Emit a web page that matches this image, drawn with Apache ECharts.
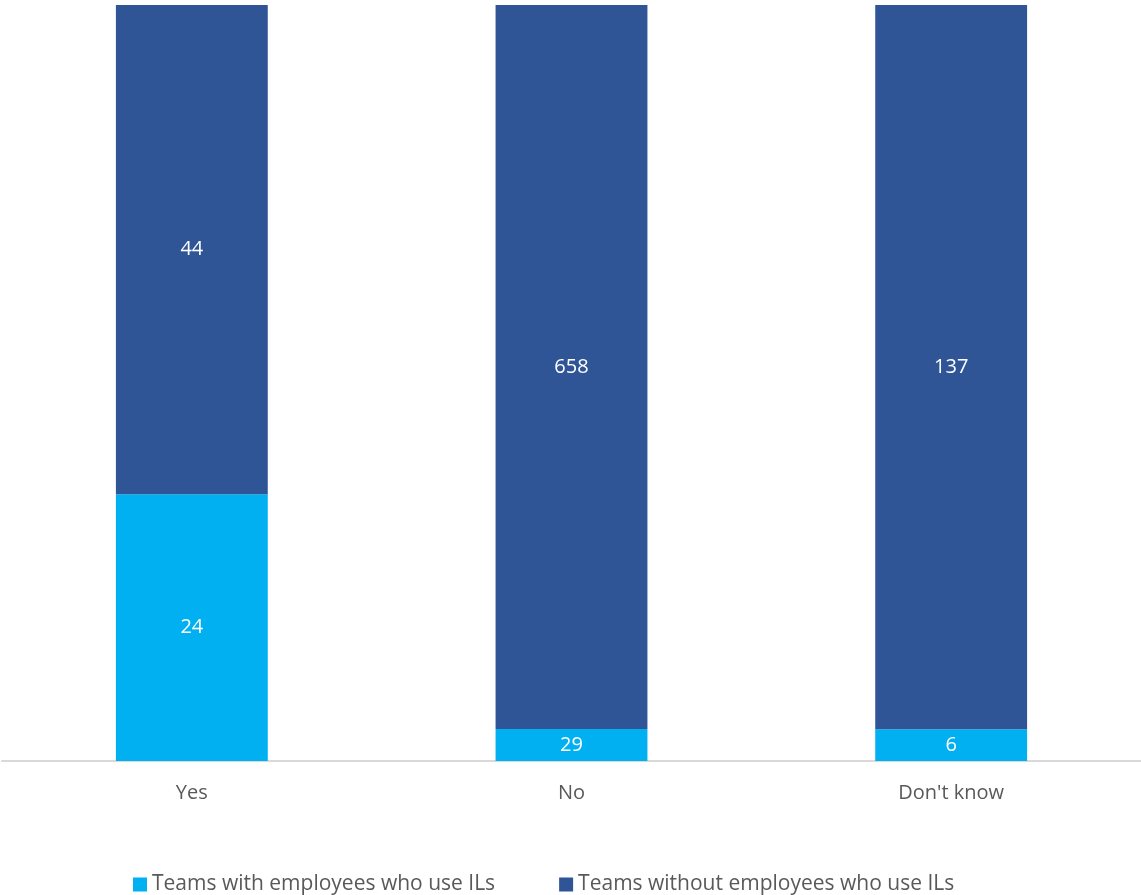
<!DOCTYPE html>
<html>
<head>
<meta charset="utf-8">
<script src="https://cdn.jsdelivr.net/npm/echarts@6/dist/echarts.min.js"></script>
<style>
  html, body { margin: 0; padding: 0; background: #fff; }
  #chart { width: 1141px; height: 895px; }
</style>
</head>
<body>
<div id="chart"></div>
<script>
// Answer categories and team counts per answer
const categories = ['Yes', 'No', "Don't know"];
const withUsers = [24, 29, 6];
const withoutUsers = [44, 658, 137];
const seriesNames = ['Teams with employees who use ILs', 'Teams without employees who use ILs'];

// Each bar is scaled to 100% of its category total; labels show the raw counts
const totals = categories.map((_, i) => withUsers[i] + withoutUsers[i]);
const toShare = (arr) => arr.map((v, i) => ({ value: v / totals[i] * 100, count: v }));

const fontFamily = '"Open Sans", "Noto Sans", sans-serif';
const fontSize = 20;

const chart = echarts.init(document.getElementById('chart'));
chart.setOption({
  animation: false,
  textStyle: { fontFamily },
  grid: { left: 2, right: 0, top: 5, bottom: 134 },
  legend: {
    top: 869,
    left: 128,
    itemWidth: 14,
    itemHeight: 14,
    itemGap: 64,
    icon: 'rect',
    textStyle: { color: '#595959', fontSize: 21, fontFamily },
    data: seriesNames
  },
  xAxis: {
    type: 'category',
    data: categories,
    axisLine: { lineStyle: { color: '#d9d9d9', width: 2 } },
    axisTick: { show: false },
    axisLabel: { color: '#595959', fontSize: fontSize, margin: 22, fontFamily }
  },
  yAxis: {
    type: 'value',
    min: 0,
    max: 100,
    show: false,
    splitLine: { show: false }
  },
  series: [
    {
      name: seriesNames[0],
      type: 'bar',
      stack: 'total',
      barWidth: '40%',
      itemStyle: { color: '#00b0f0' },
      label: {
        show: true,
        position: 'inside',
        color: '#fff',
        fontSize: fontSize,
        fontFamily,
        formatter: (p) => p.data.count
      },
      data: toShare(withUsers)
    },
    {
      name: seriesNames[1],
      type: 'bar',
      stack: 'total',
      barWidth: '40%',
      itemStyle: { color: '#2f5597' },
      label: {
        show: true,
        position: 'inside',
        color: '#fff',
        fontSize: fontSize,
        fontFamily,
        formatter: (p) => p.data.count
      },
      data: toShare(withoutUsers)
    }
  ]
});
</script>
</body>
</html>
